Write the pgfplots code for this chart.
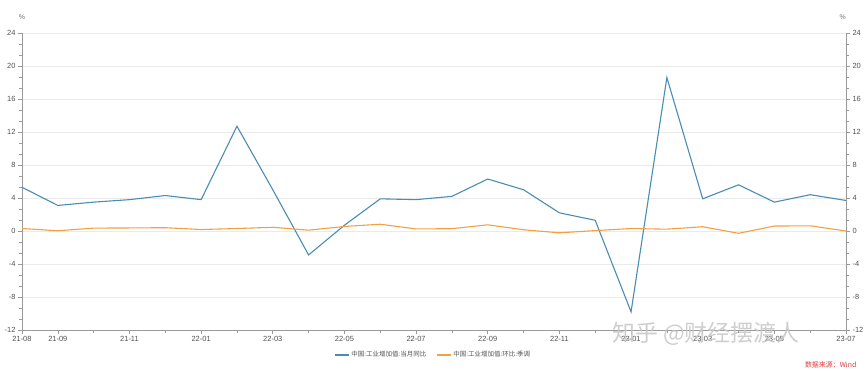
\documentclass[border=0pt]{standalone}
\usepackage{fontspec}
\setmainfont{Liberation Sans}
\newfontfamily\cjk{Noto Sans CJK SC}
\usepackage{pgfplots}
\pgfplotsset{compat=1.18}
\usepackage{pgfplotstable}
\definecolor{blueline}{HTML}{4A8DB0}
\definecolor{orangeline}{HTML}{F2A043}
\definecolor{axgray}{HTML}{9A9A9A}
\definecolor{txtgray}{HTML}{505050}
\definecolor{gridgray}{HTML}{EAEAEA}
\definecolor{srcred}{HTML}{E03A3A}

\pgfplotstableread{
idx yoy mom
0 5.3 0.30
1 3.1 0.03
2 3.5 0.35
3 3.8 0.37
4 4.3 0.40
5 3.8 0.18
6 12.7 0.30
7 5.0 0.45
8 -2.9 0.10
9 0.7 0.55
10 3.9 0.82
11 3.8 0.25
12 4.2 0.28
13 6.3 0.75
14 5.0 0.15
15 2.2 -0.22
16 1.3 0.05
17 -9.8 0.30
18 18.6 0.22
19 3.9 0.52
20 5.6 -0.28
21 3.5 0.60
22 4.4 0.63
23 3.7 0.00
}\data

\begin{document}
\begin{tikzpicture}
\useasboundingbox (-22bp,-41bp) rectangle (843bp,330bp);
\begin{axis}[
  at={(0,0)}, anchor=south west,
  scale only axis, width=824bp, height=297bp,
  xmin=0, xmax=23, ymin=-12, ymax=24,
  axis x line*=bottom, axis y line*=left,
  xtick={0,1,3,5,7,9,11,13,15,17,19,21,23},
  xticklabels={21-08,21-09,21-11,22-01,22-03,22-05,22-07,22-09,22-11,23-01,23-03,23-05,23-07},
  minor xtick={2,4,6,8,10,12,14,16,18,20,22},
  ytick={-12,-8,-4,0,4,8,12,16,20,24},
  minor y tick num=2,
  tick align=outside,
  major tick length=4bp, minor tick length=3bp,
  ymajorgrids, major grid style={gridgray, line width=0.6bp},
  axis line style={axgray, line width=0.8bp},
  every tick/.style={axgray, line width=0.6bp},
  tick label style={font=\fontsize{7.5}{8}\selectfont, text=txtgray},
  /pgf/number format/assume math mode=true,
  xticklabel style={yshift=1bp},
  yticklabel style={xshift=1bp},
  clip=false,
  legend columns=2,
  legend style={at={(0.499,-0.084)}, anchor=center, draw=none, fill=none,
    font=\cjk\fontsize{6.5}{7}\selectfont, text=txtgray,
    /tikz/every even column/.append style={column sep=8bp}},
  legend image code/.code={\draw[#1, line width=1.2bp] (0bp,0bp) -- (14bp,0bp);},
]
\addplot[blueline, line width=1.1bp] table[x=idx, y=yoy] {\data};
\addlegendentry{中国:工业增加值:当月同比}
\addplot[orangeline, line width=1.1bp] table[x=idx, y=mom] {\data};
\addlegendentry{中国:工业增加值:环比:季调}
\node[font=\fontsize{7}{8}\selectfont, text=txtgray!80] at (rel axis cs:0,1.054) {\%};
\node[font=\fontsize{7}{8}\selectfont, text=txtgray!80] at (rel axis cs:0.996,1.054) {\%};
\node[anchor=east, font=\cjk\fontsize{7}{8}\selectfont, text=srcred] at (rel axis cs:1.017,-0.118) {数据来源：Wind};
\node[font=\cjk\fontsize{23}{24}\selectfont, text=gray!45, opacity=0.85] at (rel axis cs:0.83,-0.012) {知乎 @财经摆渡人};
\end{axis}
\begin{axis}[
  at={(0,0)}, anchor=south west,
  scale only axis, width=824bp, height=297bp,
  xmin=0, xmax=23, ymin=-12, ymax=24,
  axis x line=none, axis y line*=right,
  ytick={-12,-8,-4,0,4,8,12,16,20,24},
  minor y tick num=2,
  tick align=outside,
  major tick length=4bp, minor tick length=3bp,
  axis line style={axgray, line width=0.8bp},
  every tick/.style={axgray, line width=0.6bp},
  tick label style={font=\fontsize{7.5}{8}\selectfont, text=txtgray},
  /pgf/number format/assume math mode=true,
  yticklabel style={xshift=-1bp},
]
\addplot[draw=none] coordinates {(0,0)};
\end{axis}
\end{tikzpicture}
\end{document}
